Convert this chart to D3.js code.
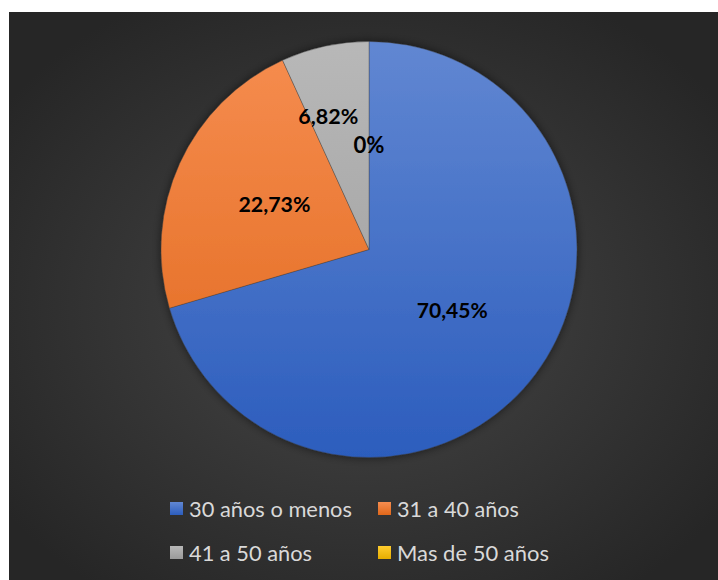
<!DOCTYPE html>
<html>
<head>
<meta charset="utf-8">
<script src="https://cdn.jsdelivr.net/npm/d3@7"></script>
<style>
  html, body { margin: 0; padding: 0; background: #ffffff; }
  svg { display: block; }
</style>
</head>
<body>
<svg id="chart" width="718" height="580"></svg>
<script>
// Age groups and their share of respondents (%)
const categories = ["30 años o menos", "31 a 40 años", "41 a 50 años", "Mas de 50 años"];
const values = [70.45, 22.73, 6.82, 0];
const valueLabels = ["70,45%", "22,73%", "6,82%", "0%"];
const colorsTop = ["#6187d2", "#f68d50", "#b8b8b8", "#ffcd2e"];
const colorsBottom = ["#2c5dbd", "#e0671a", "#9a9a9a", "#e6ad00"];

const W = 718, H = 580;
const svg = d3.select("#chart");
const defs = svg.append("defs");

// Chart area background: dark radial gradient
const bg = defs.append("radialGradient").attr("id", "bgGrad")
  .attr("cx", "50%").attr("cy", "52%").attr("r", "62%");
bg.append("stop").attr("offset", "0%").attr("stop-color", "#474747");
bg.append("stop").attr("offset", "100%").attr("stop-color", "#262626");

svg.append("rect")
  .attr("x", 9).attr("y", 12)
  .attr("width", W - 9).attr("height", H - 12)
  .attr("fill", "url(#bgGrad)");

const cx = 369, cy = 249.5, R = 208;

// Per-slice vertical gradients
colorsTop.forEach((c, i) => {
  const g = defs.append("linearGradient").attr("id", "slice" + i)
    .attr("gradientUnits", "userSpaceOnUse")
    .attr("x1", 0).attr("y1", -R).attr("x2", 0).attr("y2", R);
  g.append("stop").attr("offset", "0%").attr("stop-color", c);
  g.append("stop").attr("offset", "100%").attr("stop-color", colorsBottom[i]);
});

// Soft shadow around the pie
const f = defs.append("filter").attr("id", "pieShadow")
  .attr("x", "-20%").attr("y", "-20%").attr("width", "140%").attr("height", "140%");
f.append("feDropShadow").attr("dx", 0).attr("dy", 0)
  .attr("stdDeviation", 5).attr("flood-color", "#000").attr("flood-opacity", 0.55);

const pie = d3.pie().sort(null).value(d => d);
const arcs = pie(values);
const arc = d3.arc().innerRadius(0).outerRadius(R);

const g = svg.append("g").attr("transform", `translate(${cx},${cy})`);
g.append("g").attr("filter", "url(#pieShadow)")
  .selectAll("path").data(arcs).join("path")
  .attr("d", arc)
  .attr("fill", (d, i) => `url(#slice${i})`)
  .attr("stroke", "rgba(60,60,60,0.6)")
  .attr("stroke-width", (d) => d.value > 0 ? 0.6 : 0);

// Data labels: placed along each slice's mid-angle
const textFont = "Lato, 'Open Sans', 'Liberation Sans', sans-serif";
const labelRadius = [104, 104, 138, 103];
const labelAngleNudge = [0, 0, -0.085, 0];
const labelTargets = [71, 72, 60, 31];
g.selectAll("text.val").data(arcs).join("text")
  .attr("class", "val")
  .attr("transform", (d, i) => {
    const a = (d.startAngle + d.endAngle) / 2 + labelAngleNudge[i];
    const r = labelRadius[i];
    return `translate(${r * Math.sin(a)},${-r * Math.cos(a) + 6})`;
  })
  .attr("text-anchor", "middle")
  .attr("font-family", textFont)
  .attr("font-weight", "bold")
  .attr("font-size", 18)
  .attr("fill", "#000")
  .text((d, i) => valueLabels[i])
  .each(function(d, i) {
    const w = this.getComputedTextLength();
    const fs = 18 * labelTargets[i] / w;
    d3.select(this).attr("font-size", fs.toFixed(2));
  });

// Legend
const legendCols = [170, 378];
const legendRows = [517, 561];
const legendWidths = [163, 122, 123, 152];
const leg = svg.append("g");
categories.forEach((name, i) => {
  const x = legendCols[i % 2], y = legendRows[Math.floor(i / 2)];
  const lg = defs.append("linearGradient").attr("id", "leg" + i)
    .attr("x1", 0).attr("y1", 0).attr("x2", 0).attr("y2", 1);
  lg.append("stop").attr("offset", "0%").attr("stop-color", colorsTop[i]);
  lg.append("stop").attr("offset", "100%").attr("stop-color", colorsBottom[i]);
  leg.append("rect")
    .attr("x", x).attr("y", y - 15)
    .attr("width", 13).attr("height", 13)
    .attr("fill", `url(#leg${i})`);
  const t = leg.append("text")
    .attr("x", x + 19).attr("y", y)
    .attr("font-family", textFont)
    .attr("font-size", 19)
    .attr("fill", "#d9d9d9")
    .text(name);
  const w = t.node().getComputedTextLength();
  t.attr("font-size", (19 * legendWidths[i] / w).toFixed(2));
});
</script>
</body>
</html>
